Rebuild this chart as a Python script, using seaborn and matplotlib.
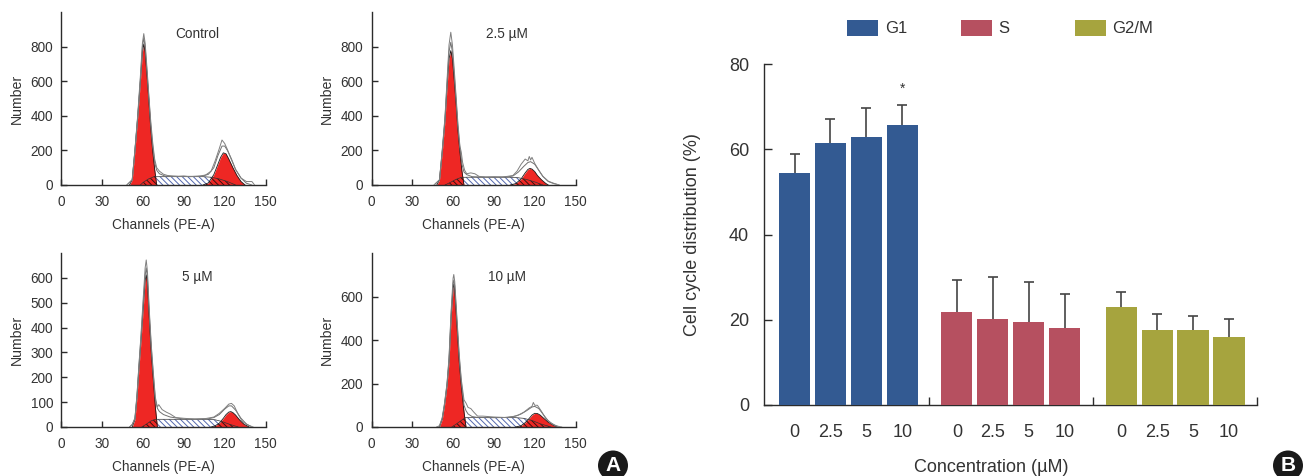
import matplotlib
matplotlib.use("Agg")
import matplotlib.pyplot as plt
from matplotlib.patches import Rectangle, Circle
import numpy as np
import pandas as pd
import seaborn as sns

# ---------- Panel A data (channel, count) ----------
ctrl_g1_x = [50, 52, 54, 56, 58, 59.5, 60.5, 61.5, 63, 64.2, 65.5, 67, 68.5, 70]
ctrl_g1_y = [0, 30, 200, 390, 600, 770, 815, 770, 620, 490, 340, 200, 90, 0]
ctrl_s_x = [58, 60, 64, 68, 72, 90, 104, 110, 116, 122, 128]
ctrl_s_y = [0, 15, 35, 48, 48, 48, 48, 45, 35, 20, 0]
ctrl_g2_x = [104, 108, 112, 115, 117, 119, 121, 123, 126, 129, 132, 135]
ctrl_g2_y = [0, 12, 60, 120, 160, 186, 180, 150, 100, 55, 20, 0]
ctrl_fit_x = [48, 52, 54, 56, 58, 59.5, 60.5, 61.5, 63, 64.2, 65.5, 67, 68.5, 70, 72, 76, 80, 90, 100, 104, 108, 112, 115, 118, 120, 122, 125, 128, 132, 136, 140]
ctrl_fit_y = [0, 30, 200, 390, 610, 800, 850, 800, 640, 510, 360, 230, 130, 85, 65, 52, 50, 50, 50, 52, 62, 100, 170, 225, 225, 200, 150, 90, 40, 10, 0]
ctrl_raw_x = [48, 52, 54, 56, 58, 59.5, 60.5, 61.5, 63, 64.2, 65.5, 67, 68.5, 70, 72, 75, 78, 82, 86, 90, 94, 98, 102, 106, 110, 113, 116, 118, 120, 122, 125, 128, 132, 136, 140, 142]
ctrl_raw_y = [0, 30, 205, 400, 630, 820, 875, 820, 660, 520, 380, 250, 150, 100, 80, 62, 55, 52, 50, 52, 48, 50, 52, 58, 80, 140, 210, 260, 240, 205, 145, 90, 40, 20, 20, 0]

low_g1_x = [48, 50, 52, 54, 55.5, 57, 58.3, 59.5, 61, 62.3, 63.5, 65, 66.5, 68]
low_g1_y = [0, 30, 190, 370, 560, 730, 777, 730, 590, 460, 320, 190, 80, 0]
low_s_x = [54, 58, 62, 66, 70, 88, 102, 108, 114, 120, 126]
low_s_y = [0, 15, 32, 44, 45, 45, 45, 42, 32, 18, 0]
low_g2_x = [102, 106, 110, 113, 115, 116.5, 118, 120, 122, 125, 128, 130]
low_g2_y = [0, 8, 35, 70, 90, 96, 92, 78, 55, 30, 10, 0]
low_fit_x = [46, 50, 52, 54, 55.5, 57, 58.3, 59.5, 61, 62.3, 63.5, 65, 66.5, 68, 70, 74, 80, 90, 100, 104, 108, 112, 115, 117, 120, 123, 126, 130, 134, 138]
low_fit_y = [0, 30, 195, 380, 580, 770, 825, 770, 620, 480, 340, 215, 120, 75, 60, 48, 46, 45, 47, 52, 75, 108, 130, 135, 120, 85, 50, 20, 8, 0]
low_raw_x = [46, 50, 52, 54, 55.5, 57, 58.3, 59.5, 61, 62.3, 63.5, 65, 66, 67, 68.5, 70, 73, 76, 79, 84, 90, 96, 100, 104, 107, 110, 113, 115, 116, 117, 118, 120, 123, 126, 130, 134, 138]
low_raw_y = [0, 30, 200, 390, 600, 810, 883, 810, 650, 500, 360, 225, 190, 130, 85, 65, 70, 65, 50, 46, 48, 46, 50, 55, 80, 120, 150, 140, 165, 145, 160, 125, 85, 50, 22, 10, 0]

mid_g1_x = [52, 54, 55.5, 57, 58.5, 60, 61.5, 62.3, 63.2, 64.5, 66, 67.5, 69, 70.5]
mid_g1_y = [0, 30, 120, 240, 350, 470, 590, 612, 580, 440, 300, 190, 80, 0]
mid_s_x = [59, 62, 66, 69, 72, 90, 108, 113, 118, 123, 130]
mid_s_y = [0, 10, 25, 31, 31, 31, 31, 29, 22, 12, 0]
mid_g2_x = [110, 113, 116, 119, 121, 123, 124.5, 126, 128, 131, 134, 138]
mid_g2_y = [0, 5, 15, 35, 50, 60, 62, 58, 48, 28, 12, 0]
mid_fit_x = [50, 52, 54, 55.5, 57, 58.5, 60, 61.5, 62.3, 63.2, 64.5, 66, 67.5, 69, 70.5, 72, 75, 80, 90, 100, 108, 112, 116, 120, 123, 125, 128, 132, 136, 140]
mid_fit_y = [0, 10, 35, 125, 250, 365, 490, 610, 640, 600, 460, 320, 210, 110, 75, 62, 50, 40, 32, 32, 33, 38, 50, 72, 85, 85, 68, 35, 12, 0]
mid_raw_x = [50, 52, 54, 55.5, 57, 58.5, 60, 61.5, 62.3, 63.2, 64.5, 66, 67.5, 69, 70.5, 71.5, 74, 77, 80, 84, 90, 98, 106, 112, 116, 120, 123, 125, 127, 130, 133, 137, 141]
mid_raw_y = [0, 10, 35, 130, 255, 375, 510, 640, 672, 625, 475, 330, 220, 120, 80, 90, 70, 60, 52, 38, 35, 32, 34, 40, 55, 75, 92, 95, 85, 50, 22, 8, 0]

high_g1_x = [50, 52, 53.7, 55.5, 57, 58.5, 60, 60.5, 61.2, 63, 64.5, 66, 68, 69.5]
high_g1_y = [0, 35, 100, 190, 300, 500, 640, 658, 630, 450, 300, 190, 70, 0]
high_s_x = [59, 62, 66, 69, 72, 90, 106, 112, 118, 124, 132]
high_s_y = [0, 12, 30, 43, 43, 43, 43, 40, 30, 15, 0]
high_g2_x = [106, 110, 113, 116, 118, 120, 122, 124, 127, 130, 134, 137]
high_g2_y = [0, 6, 20, 40, 55, 63, 62, 55, 38, 22, 7, 0]
high_fit_x = [48, 50, 52, 53.7, 55.5, 57, 58.5, 60, 60.5, 61.2, 63, 64.5, 66, 68, 69.5, 71, 74, 78, 90, 100, 106, 110, 114, 118, 120, 123, 126, 130, 134, 138]
high_fit_y = [0, 5, 40, 105, 195, 310, 515, 660, 676, 650, 470, 320, 210, 100, 75, 60, 48, 44, 43, 44, 50, 60, 75, 92, 95, 85, 60, 28, 10, 0]
high_raw_x = [48, 50, 52, 53.7, 55.5, 57, 58.5, 60, 60.5, 61.2, 63, 64.5, 66, 68, 69.5, 71, 73, 75, 78, 82, 90, 98, 104, 108, 112, 116, 118, 119, 120, 122, 125, 128, 132, 136, 140]
high_raw_y = [0, 5, 42, 110, 200, 320, 530, 685, 702, 670, 485, 335, 220, 125, 110, 90, 85, 70, 50, 50, 46, 44, 48, 55, 68, 88, 95, 113, 100, 100, 72, 40, 18, 5, 0]

panel_labels = ["Control", "2.5 µM", "5 µM", "10 µM"]
panel_yticks = [[0, 200, 400, 600, 800], [0, 200, 400, 600, 800],
                [0, 100, 200, 300, 400, 500, 600], [0, 200, 400, 600]]
panel_ymax = [1000, 1000, 700, 801]
channel_ticks = [0, 30, 60, 90, 120, 150]

# ---------- Panel B data ----------
concentrations = ["0", "2.5", "5", "10"]
phases = ["G1", "S", "G2/M"]
g1_mean = [54.5, 61.5, 62.9, 65.7]
g1_top = [58.9, 67.1, 69.8, 70.5]
s_mean = [21.8, 20.1, 19.4, 18.0]
s_top = [29.2, 29.9, 28.8, 26.1]
g2m_mean = [23.0, 17.5, 17.5, 15.9]
g2m_top = [26.5, 21.4, 20.9, 20.1]

# ---------- Layout and style ----------
W, H = 1303, 476
sns.set_theme(style="white")
plt.rcParams["font.family"] = ["Liberation Sans", "DejaVu Sans"]
plt.rcParams["hatch.linewidth"] = 0.7
INK = "#2b2b2b"
RED = "#ee2724"
BLUE = "#5468ae"
PHASE_COLORS = {"G1": "#335a92", "S": "#b65060", "G2/M": "#a6a43e"}

fig = plt.figure(figsize=(W / 100, H / 100), dpi=100, facecolor="white")


def px_axes(left, top, right, bottom):
    return fig.add_axes([left / W, 1 - bottom / H, (right - left) / W, (bottom - top) / H])


def style_axes(ax):
    sns.despine(ax=ax)
    for side in ("left", "bottom"):
        ax.spines[side].set_color(INK)
        ax.spines[side].set_linewidth(1.0)
    ax.patch.set_alpha(0)


def histogram(ax, g1, s, g2, fit, raw, yticks, ymax):
    ax.fill_between(s[0], s[1], 0, facecolor="white", edgecolor=BLUE, hatch="\\\\\\\\\\\\", linewidth=0, zorder=1)
    reds = []
    for curve in (g1, g2):
        reds.append(ax.fill_between(curve[0], curve[1], 0, color=RED, linewidth=0, zorder=2))
        ax.plot(curve[0], curve[1], color="#1a1a1a", lw=0.6, zorder=4)
    for red in reds:
        over = ax.fill_between(s[0], s[1], 0, facecolor="none", edgecolor="#3a1010", hatch="\\\\\\\\\\\\", linewidth=0, zorder=3)
        over.set_clip_path(red.get_paths()[0], ax.transData)
    ax.plot(s[0], s[1], color="#333333", lw=0.5, zorder=4)
    sns.lineplot(x=fit[0], y=fit[1], sort=False, estimator=None, color="#707070", lw=0.7, ax=ax, zorder=5)
    sns.lineplot(x=raw[0], y=raw[1], sort=False, estimator=None, color="#808080", lw=0.7, ax=ax, zorder=5)
    ax.set_xlim(0, 150)
    ax.set_ylim(0, ymax)
    ax.set_xticks(channel_ticks)
    ax.set_yticks(yticks)
    ax.tick_params(axis="both", direction="in", length=4.5, width=1, color=INK, left=True, bottom=True,
                   labelsize=9.8, labelcolor="#333333")
    ax.tick_params(axis="x", pad=7)
    ax.tick_params(axis="y", pad=6)
    ax.set_xlabel("Channels (PE-A)", fontsize=9.8, color="#333333", labelpad=7)
    ax.set_ylabel("")
    style_axes(ax)


panel_boxes = [(61.5, 12, 265.5, 185), (371.5, 12, 575.5, 185),
               (61.5, 253, 265.5, 427), (371.5, 253, 575.5, 427)]
panel_curves = [
    ((ctrl_g1_x, ctrl_g1_y), (ctrl_s_x, ctrl_s_y), (ctrl_g2_x, ctrl_g2_y), (ctrl_fit_x, ctrl_fit_y), (ctrl_raw_x, ctrl_raw_y)),
    ((low_g1_x, low_g1_y), (low_s_x, low_s_y), (low_g2_x, low_g2_y), (low_fit_x, low_fit_y), (low_raw_x, low_raw_y)),
    ((mid_g1_x, mid_g1_y), (mid_s_x, mid_s_y), (mid_g2_x, mid_g2_y), (mid_fit_x, mid_fit_y), (mid_raw_x, mid_raw_y)),
    ((high_g1_x, high_g1_y), (high_s_x, high_s_y), (high_g2_x, high_g2_y), (high_fit_x, high_fit_y), (high_raw_x, high_raw_y)),
]
title_px = [(197, 34), (507, 34), (197, 277), (507, 277)]
ylabel_px = [16.5, 326.5, 16.5, 326.5]

for i in range(4):
    ax = px_axes(*panel_boxes[i])
    histogram(ax, *panel_curves[i], panel_yticks[i], panel_ymax[i])
    fig.text(title_px[i][0] / W, 1 - title_px[i][1] / H, panel_labels[i], ha="center", va="center",
             fontsize=9.8, color="#333333")
    top, bottom = panel_boxes[i][1], panel_boxes[i][3]
    fig.text(ylabel_px[i] / W, 1 - (top + bottom) / 2 / H, "Number", rotation=90, ha="center",
             va="center", fontsize=10.2, color="#333333")

# ---------- Panel B ----------
group_offset = [0.0, 4.52, 9.1]
means = [g1_mean, s_mean, g2m_mean]
tops = [g1_top, s_top, g2m_top]
rows = []
for g, phase in enumerate(phases):
    for c, conc in enumerate(concentrations):
        rows.append({"pos": group_offset[g] + c, "phase": phase, "conc": conc,
                     "mean": means[g][c], "top": tops[g][c]})
df = pd.DataFrame(rows)

bx = px_axes(764.4, 64.3, 1257, 404.7)
sns.barplot(data=df, x="pos", y="mean", hue="phase", palette=PHASE_COLORS, native_scale=True, dodge=False,
            width=0.87, saturation=1, legend=False, errorbar=None, ax=bx, zorder=3, linewidth=0)
eb = bx.errorbar(df["pos"], df["mean"], yerr=[np.zeros(len(df)), df["top"] - df["mean"]], fmt="none",
                 ecolor="#444444", elinewidth=1.2, capsize=3.6, capthick=1.2, zorder=2)
eb[1][0].set_visible(False)
bx.text(3, 74.2, "*", ha="center", va="center", fontsize=10, color="#333333")
bx.set_xlim(-0.84, 12.88)
bx.set_ylim(0, 80)
bx.set_yticks([0, 20, 40, 60, 80])
bx.set_xticks(df["pos"].to_numpy())
bx.set_xticklabels(df["conc"].tolist())
bx.set_xticks([3.74, 8.31, 12.88], minor=True)
bx.tick_params(axis="x", which="major", length=0, pad=14, labelsize=13, labelcolor="#333333")
bx.tick_params(axis="x", which="minor", direction="in", length=5.5, width=1, color=INK, bottom=True)
bx.tick_params(axis="y", direction="in", length=5.5, width=1, color=INK, left=True, pad=11,
               labelsize=13, labelcolor="#333333")
bx.set_xlabel("")
bx.set_ylabel("")
style_axes(bx)
fig.text(692 / W, 1 - 235 / H, "Cell cycle distribution (%)", rotation=90, ha="center", va="center",
         fontsize=13, color="#333333")
fig.text(991 / W, 1 - 468 / H, "Concentration (µM)", ha="center", va="center", fontsize=13, color="#333333")

# Legend
legend_px = [(847, 885), (961, 998), (1075, 1112)]
for (box_x, text_x), phase in zip(legend_px, phases):
    fig.add_artist(Rectangle((box_x / W, 1 - 36 / H), 31 / W, 16 / H, transform=fig.transFigure,
                             facecolor=PHASE_COLORS[phase], edgecolor="none"))
    fig.text(text_x / W, 1 - 28.5 / H, phase, ha="left", va="center", fontsize=12, color="#333333")

# Panel badges
for letter, cx, cy in (("A", 613, 465.5), ("B", 1288, 465.5)):
    fig.add_artist(Circle((cx / 100, (H - cy) / 100), 0.15, transform=fig.dpi_scale_trans,
                          facecolor="#1a1a1a", edgecolor="none"))
    fig.text(cx / W, 1 - cy / H, letter, ha="center", va="center", fontsize=15, fontweight="bold", color="white")

fig.savefig("out.png", dpi=100, facecolor="white")
